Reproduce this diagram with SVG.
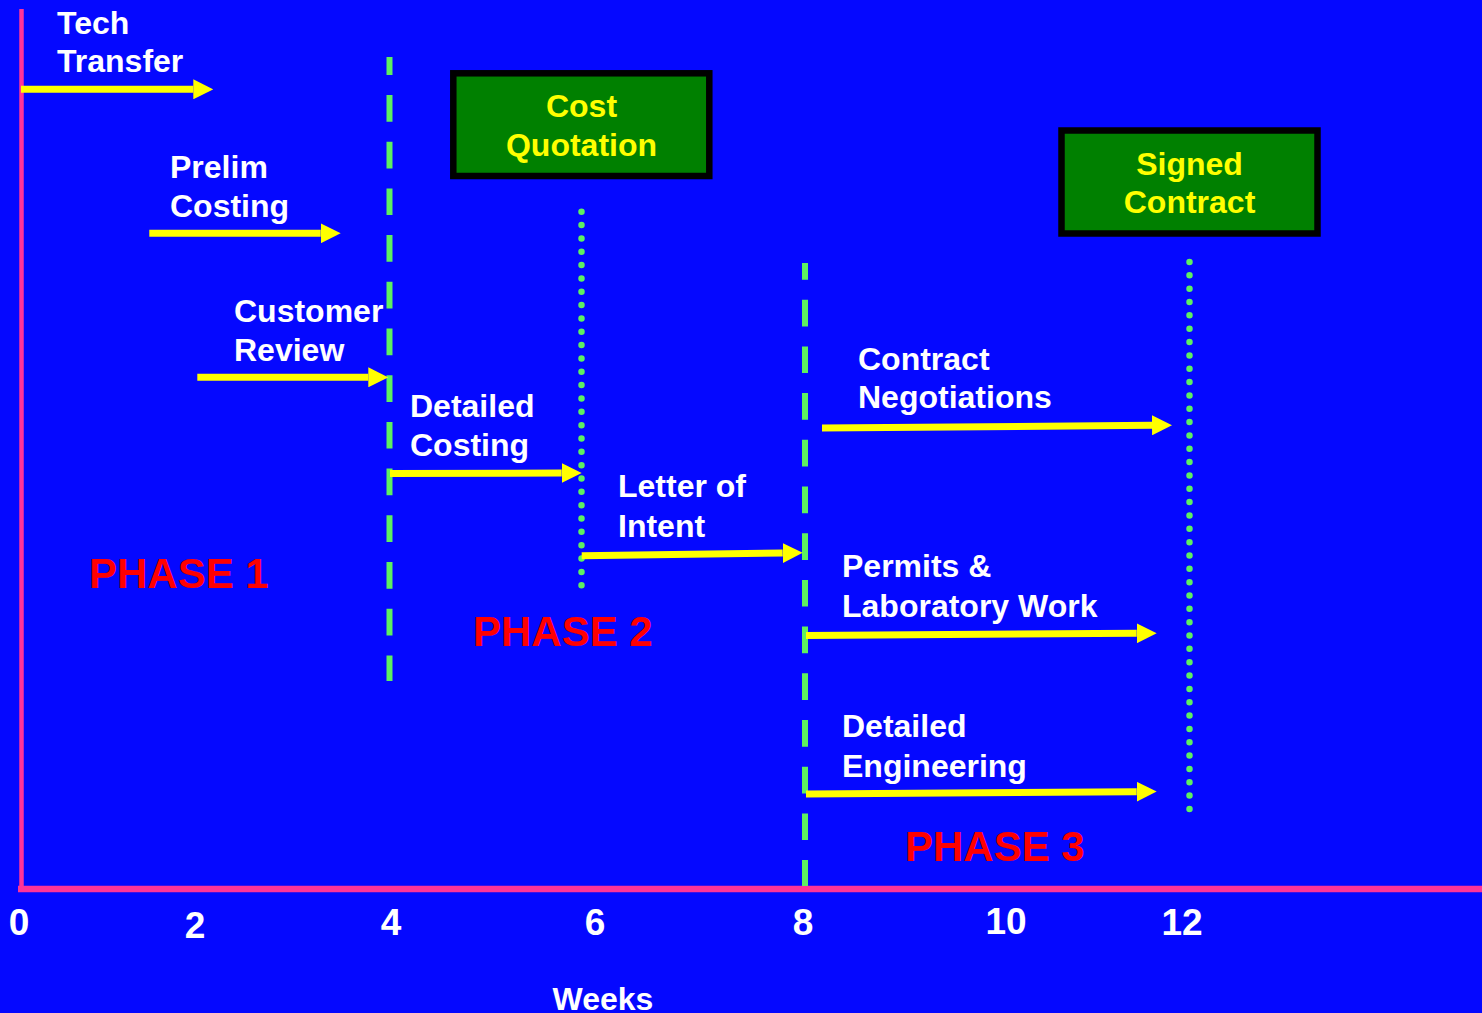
<svg xmlns="http://www.w3.org/2000/svg" width="1482" height="1013" viewBox="0 0 1482 1013">
  <style>
    .lbl { font-family: "Liberation Sans", Arial, sans-serif; font-weight: bold; font-size: 32px; fill: #FFFFFF; }
    .box text { font-family: "Liberation Sans", Arial, sans-serif; font-weight: bold; font-size: 32px; fill: #FFFF00; text-anchor: middle; }
    .box rect { fill: #008000; stroke: #000000; stroke-width: 6.5; }
    .phase { font-family: "Liberation Sans", Arial, sans-serif; font-weight: bold; font-size: 42px; fill: #FF0000; }
    .num { font-family: "Liberation Sans", Arial, sans-serif; font-weight: bold; font-size: 37px; fill: #FFFFFF; text-anchor: middle; }
    .arrow { stroke: #FFFF00; stroke-width: 7; fill: none; marker-end: url(#head); }
    .dash { stroke: #5EF060; stroke-width: 6; stroke-dasharray: 26.7 20; fill: none; }
    .dot { stroke: #5EF060; stroke-width: 6.5; stroke-linecap: round; stroke-dasharray: 0 13.34; fill: none; }
    .axis { stroke: #FF3399; fill: none; }
  </style>
  <defs>
    <marker id="head" markerUnits="userSpaceOnUse" markerWidth="20" markerHeight="20" viewBox="0 0 20 20" refX="0" refY="10" orient="auto">
      <path d="M0,0 L20,10 L0,20 Z" fill="#FFFF00"/>
    </marker>
  </defs>
  <rect x="0" y="0" width="1482" height="1013" fill="#0508FF"/>

  <g id="axes">
    <line class="axis" x1="21.5" y1="9" x2="21.5" y2="889" stroke-width="4.5"/>
    <line class="axis" x1="18" y1="889" x2="1482" y2="889" stroke-width="6.5"/>
  </g>

  <g id="phase-lines">
    <line class="dash" x1="389.5" y1="57" x2="389.5" y2="681" stroke-dashoffset="8.7"/>
    <line class="dash" x1="805" y1="263" x2="805" y2="886" stroke-dashoffset="10"/>
    <line class="dot" x1="581.5" y1="211.7" x2="581.5" y2="586"/>
    <line class="dot" x1="1189.5" y1="262" x2="1189.5" y2="812"/>
  </g>

  <g id="connectors">
    <line class="arrow" x1="21" y1="89.3" x2="193.3" y2="89.3"/>
    <line class="arrow" x1="149.3" y1="233.3" x2="320.7" y2="233.3"/>
    <line class="arrow" x1="197.3" y1="377.3" x2="368.3" y2="377.3"/>
    <line class="arrow" x1="390" y1="473.5" x2="561.7" y2="473"/>
    <line class="arrow" x1="581.7" y1="555.8" x2="782.7" y2="553"/>
    <line class="arrow" x1="822" y1="428" x2="1152" y2="425.3"/>
    <line class="arrow" x1="806" y1="635.5" x2="1136.7" y2="633.3"/>
    <line class="arrow" x1="806" y1="794" x2="1136.7" y2="791.7"/>
  </g>

  <g id="tech-transfer"><text class="lbl" x="57" y="34">Tech</text><text class="lbl" x="57" y="72">Transfer</text></g>
  <g id="prelim-costing"><text class="lbl" x="170" y="178">Prelim</text><text class="lbl" x="170" y="217">Costing</text></g>
  <g id="customer-review"><text class="lbl" x="234" y="322">Customer</text><text class="lbl" x="234" y="361">Review</text></g>
  <g id="detailed-costing"><text class="lbl" x="410" y="417">Detailed</text><text class="lbl" x="410" y="456">Costing</text></g>
  <g id="letter-of-intent"><text class="lbl" x="618" y="497">Letter of</text><text class="lbl" x="618" y="536.5">Intent</text></g>
  <g id="contract-negotiations"><text class="lbl" x="858" y="370">Contract</text><text class="lbl" x="858" y="408">Negotiations</text></g>
  <g id="permits-lab"><text class="lbl" x="842" y="577">Permits &amp;</text><text class="lbl" x="842" y="616.5">Laboratory Work</text></g>
  <g id="detailed-engineering"><text class="lbl" x="842" y="737">Detailed</text><text class="lbl" x="842" y="776.5">Engineering</text></g>

  <g id="cost-quotation" class="box">
    <rect x="453.3" y="73.3" width="256" height="102.7"/>
    <text x="581.5" y="117">Cost</text>
    <text x="581.5" y="156">Quotation</text>
  </g>
  <g id="signed-contract" class="box">
    <rect x="1061.5" y="130.5" width="256" height="103"/>
    <text x="1189.5" y="175">Signed</text>
    <text x="1189.5" y="213">Contract</text>
  </g>

  <g id="phases">
    <text class="phase" x="89" y="588">PHASE 1</text>
    <text class="phase" x="473" y="646">PHASE 2</text>
    <text class="phase" x="905" y="861">PHASE 3</text>
  </g>

  <g id="axis-labels">
    <text class="num" x="19" y="935">0</text>
    <text class="num" x="195" y="938">2</text>
    <text class="num" x="391" y="935">4</text>
    <text class="num" x="595" y="935">6</text>
    <text class="num" x="803" y="935">8</text>
    <text class="num" x="1006" y="934">10</text>
    <text class="num" x="1182" y="935">12</text>
    <text class="num" x="603" y="1010" style="font-size:32px">Weeks</text>
  </g>
</svg>
